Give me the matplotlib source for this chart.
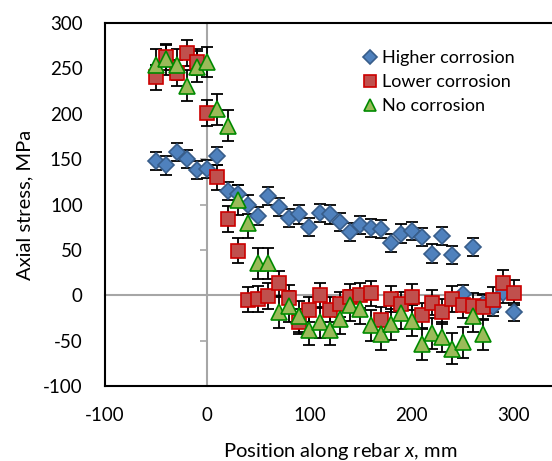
import numpy as np
import matplotlib.pyplot as plt
from matplotlib.lines import Line2D

plt.rcParams['font.family'] = ['Lato', 'DejaVu Sans']
plt.rcParams['mathtext.fontset'] = 'custom'
plt.rcParams['mathtext.rm'] = 'Lato'
plt.rcParams['mathtext.it'] = 'Lato:italic'
plt.rcParams['axes.unicode_minus'] = False

# data
x_high = np.arange(-50, 301, 10)
y_high = [148, 143, 158, 150, 138, 139, 153, 115, 112, 100, 87, 109, 97, 85, 89, 75,
          91, 89, 81, 70, 77, 74, 73, 58, 68, 71, 64, 46, 65, 44, 1, 53, -10, -13, 2, -18]
err_high = 10

x_low = np.arange(-50, 301, 10)
y_low = [240, 262, 245, 267, 257, 201, 130, 84, 49, -5, -4, -1, 13, -3, -29, -16,
         0, -16, -10, -2, 0, 2, -27, -4, -10, -2, -22, -8, -18, -4, -11, -12, -13, -5, 14, 3]
err_low = 14

x_no = np.arange(-50, 271, 10)
y_no = [254, 260, 254, 231, 252, 257, 205, 187, 105, 80, 35, 35, -19, -12, -23, -38,
        -30, -38, -26, -11, -15, -33, -43, -32, -20, -28, -54, -42, -46, -59, -52, -23, -43]
err_no = 17

fig = plt.figure(figsize=(5.52, 4.61), dpi=100)
pos = [105/552, 1-386/461, (575-105)/552, (386-23)/461]

# gray axes crossing at zero, behind the data
ax0 = fig.add_axes(pos, zorder=0)
ax = fig.add_axes(pos, zorder=1)
ax.set_facecolor('none')

xlim = (-100, 360)
ylim = (-100, 300)
for a in (ax0, ax):
    a.set_xlim(xlim)
    a.set_ylim(ylim)
    a.set_xticks([-100, 0, 100, 200, 300])
    a.set_yticks(np.arange(-100, 301, 50))

gray = '#a6a6a6'
ax0.spines['left'].set_position(('data', 0))
ax0.spines['bottom'].set_position(('data', 0))
ax0.spines['top'].set_visible(False)
ax0.spines['right'].set_visible(False)
for s in ('left', 'bottom'):
    ax0.spines[s].set_color(gray)
    ax0.spines[s].set_linewidth(1.5)
ax0.tick_params(direction='out', length=5, width=1.2, color=gray,
                labelleft=False, labelbottom=False)

series = [
    (x_high, y_high, err_high, 'D', 8.5, '#4f81bd', '#385d8a', 'Higher corrosion'),
    (x_low, y_low, err_low, 's', 10, '#c0504d', '#cc0000', 'Lower corrosion'),
    (x_no, y_no, err_no, '^', 11, '#9bbb59', '#008a00', 'No corrosion'),
]
handles = []
for xs, ys, e, m, ms, fc, ec, lab in series:
    ax.errorbar(xs, ys, yerr=e, fmt='none', ecolor='black', elinewidth=1.3,
                capsize=4, capthick=1.3, zorder=2)
    ax.plot(xs, ys, linestyle='none', marker=m, markersize=ms, markerfacecolor=fc,
            markeredgecolor=ec, markeredgewidth=1.2, zorder=3)
    handles.append(Line2D([], [], linestyle='none', marker=m, markersize=ms*0.8,
                          markerfacecolor=fc, markeredgecolor=ec, markeredgewidth=1.2,
                          label=lab))

for s in ('left', 'top', 'bottom'):
    ax.spines[s].set_color('black')
    ax.spines[s].set_linewidth(1.5)
ax.spines['right'].set_visible(False)
ax.tick_params(length=0, labelsize=13.5)
ax.tick_params(axis='y', pad=16)
ax.tick_params(axis='x', pad=15)

ax.set_ylabel('Axial stress, MPa', fontsize=14.5, labelpad=7)
ax.set_xlabel(r'Position along rebar $\it{x}$, mm', fontsize=14.5, labelpad=12)

ax.legend(handles=handles, loc='upper left', bbox_to_anchor=(0.525, 0.945),
          frameon=False, fontsize=13, handletextpad=0.1, labelspacing=0.45,
          handlelength=1.2, borderaxespad=0)

fig.savefig('out.png', dpi=100)
